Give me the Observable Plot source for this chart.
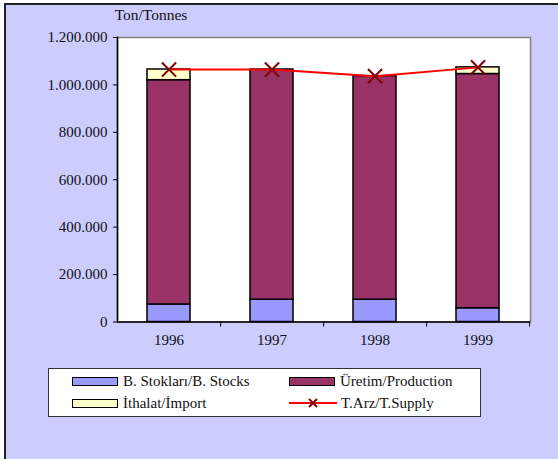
<!DOCTYPE html>
<html>
<head>
<meta charset="utf-8">
<script src="https://cdn.jsdelivr.net/npm/d3@7"></script>
<script src="https://cdn.jsdelivr.net/npm/@observablehq/plot@0.6"></script>
<style>
  body { margin: 0; background: white; font-family: "Liberation Serif", "Times New Roman", Times, "DejaVu Serif", serif; }
  #wrap { position: relative; width: 558px; height: 459px; overflow: hidden; }
  #panel { position: absolute; left: 4px; top: 3px; width: 620px; height: 620px; background: #CCCCFF; border: 2px solid #222; box-sizing: border-box; }
  #chart { position: absolute; left: 0; top: 0; }
  #unit { position: absolute; left: 100px; top: 6px; width: 102px; text-align: center; font-size: 15.5px; color: #111; }
  #legend { position: absolute; left: 48px; top: 368px; width: 433px; height: 49px; background: white; border: 1px solid #333; box-sizing: border-box; font-size: 15px; color: #111; }
  .item { position: absolute; display: flex; align-items: center; height: 18px; }
  .sw { width: 44px; height: 7px; border: 1.5px solid #000; margin-right: 5px; }
  svg text { font-family: "Liberation Serif", "Times New Roman", Times, "DejaVu Serif", serif; }
</style>
</head>
<body>
<div id="wrap">
  <div id="panel"></div>
  <div id="chart"></div>
  <div id="unit">Ton/Tonnes</div>
  <div id="legend"></div>
</div>
<script>
const years = ["1996", "1997", "1998", "1999"];
const seriesNames = ["B. Stokları/B. Stocks", "Üretim/Production", "İthalat/İmport"];
const seriesColors = ["#9999FF", "#993366", "#FFFFCC"];
const stocks = [74000, 94000, 94000, 58000];
const production = [946000, 971000, 943000, 988000];
const imports = [45000, 0, 0, 28000];
const supply = [1065000, 1065000, 1037000, 1074000];
const supplyName = "T.Arz/T.Supply";
const yTicks = [0, 200000, 400000, 600000, 800000, 1000000, 1200000];

const rows = [];
years.forEach((yr, i) => {
  [stocks, production, imports].forEach((arr, k) => {
    if (arr[i] > 0) rows.push({year: yr, series: seriesNames[k], value: arr[i]});
  });
});
const supplyRows = years.map((yr, i) => ({year: yr, value: supply[i]}));

const fmt = d3.formatLocale({thousands: ".", decimal: ",", grouping: [3], currency: ["", ""]}).format(",");

const W = 558, H = 360;
const mL = 117, mR = 28, mT = 37, mB = 38.5;
const halfStep = (W - mL - mR) / years.length / 2;
const serif = '"Liberation Serif", "Times New Roman", Times, "DejaVu Serif", serif';

const chart = Plot.plot({
  width: W, height: H,
  marginLeft: mL, marginRight: mR, marginTop: mT, marginBottom: mB,
  style: {background: "transparent", fontFamily: serif, fontSize: "15px", color: "#111"},
  x: {domain: years, paddingInner: 0.58, paddingOuter: 0.29, label: null},
  y: {domain: [0, 1200000], label: null},
  color: {domain: seriesNames, range: seriesColors},
  marks: [
    Plot.frame({fill: "white", stroke: "#808080", strokeWidth: 1.5}),
    Plot.barY(rows, {x: "year", y: "value", fill: "series", stroke: "black", strokeWidth: 1.5, order: seriesNames}),
    Plot.line(supplyRows, {x: "year", y: "value", stroke: "#FF0000", strokeWidth: 2}),
    Plot.dot(supplyRows, {x: "year", y: "value", symbol: "times", r: 6.5, stroke: "#800000", strokeWidth: 2}),
    Plot.axisY({ticks: yTicks, tickFormat: fmt, tickSize: 4, tickPadding: 6, fontSize: 15, label: null, stroke: "black"}),
    Plot.axisX({tickSize: 0, tickPadding: 12, fontSize: 15, label: null}),
    Plot.axisX({text: null, tickSize: 5, dx: halfStep, label: null, stroke: "black"}),
    Plot.ruleY([0], {stroke: "black", strokeWidth: 1.5}),
    Plot.frame({anchor: "left", stroke: "black", strokeWidth: 1.5})
  ]
});
document.getElementById("chart").appendChild(chart);

// Legend
const legend = document.getElementById("legend");
const items = [
  {name: seriesNames[0], color: seriesColors[0], left: 23, top: 3},
  {name: seriesNames[1], color: seriesColors[1], left: 240, top: 3},
  {name: seriesNames[2], color: seriesColors[2], left: 23, top: 25},
  {name: supplyName, line: true, left: 240, top: 25}
];
for (const it of items) {
  const d = document.createElement("div");
  d.className = "item";
  d.style.left = it.left + "px";
  d.style.top = it.top + "px";
  if (it.line) {
    d.innerHTML = `<svg width="48" height="14" style="margin-right:4px"><line x1="0" y1="7" x2="48" y2="7" stroke="#FF0000" stroke-width="2"/><path d="M20,3L28,11M28,3L20,11" stroke="#800000" stroke-width="2"/></svg><span>${it.name}</span>`;
  } else {
    d.innerHTML = `<div class="sw" style="background:${it.color}"></div><span>${it.name}</span>`;
  }
  legend.appendChild(d);
}
</script>
</body>
</html>
